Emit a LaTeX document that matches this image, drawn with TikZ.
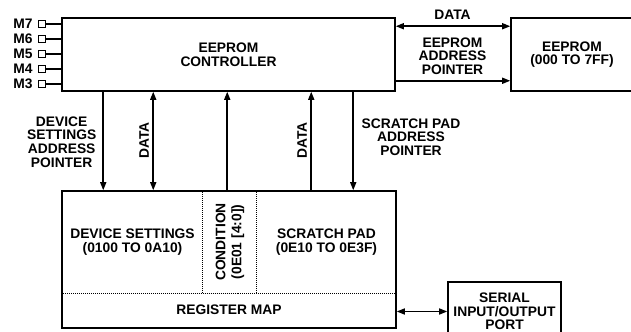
\documentclass[tikz,border=0pt]{standalone}
\usepackage{fontspec}
\setmainfont{Liberation Sans}
\usetikzlibrary{arrows.meta,positioning}

\begin{document}
\begin{tikzpicture}[
  every node/.style={font=\fontsize{11.8}{11.7}\selectfont\bfseries, align=center, inner sep=0pt},
  blk/.style={draw, line width=1.3pt},
  pin/.style={draw, line width=1pt, minimum size=2mm},
  arr/.style={-{Triangle[length=2.4mm,width=1.8mm]}, line width=1.3pt},
  darr/.style={{Triangle[length=2.4mm,width=1.8mm]}-{Triangle[length=2.4mm,width=1.8mm]}, line width=1.3pt},
  sep/.style={densely dotted, line width=0.7pt}
]
  \clip (0,0) rectangle (18.93,9.96);
  \node[blk, minimum width=9.99cm, minimum height=2.19cm] (ctrl) at (6.855,8.325) {EEPROM\\CONTROLLER};
  \node[blk, minimum width=3.66cm, minimum height=2.19cm] (eep) at (17.16,8.325) {EEPROM\\(000 TO 7FF)};
  \node[blk, minimum width=10.02cm, minimum height=4.11cm] (reg) at (6.87,2.175) {};
  \node[blk, minimum width=3.39cm, minimum height=1.77cm] (ser) at (15.135,0.615) {SERIAL\\INPUT/OUTPUT\\PORT};
  % mode pins
  \foreach \m/\y in {7/9.24,6/8.79,5/8.34,4/7.89,3/7.44} {
    \node[pin] (p\m) at (1.26,\y) {};
    \node[left=1.6mm of p\m] (m\m) {M\m};
    \draw[line width=1.1pt] (p\m.east) -- (p\m.east -| ctrl.west);
  }
  % controller <-> eeprom
  \draw[darr] ([yshift=-0.27cm]ctrl.north east) -- ([yshift=-0.27cm]eep.north west);
  \draw[arr] ([yshift=0.33cm]ctrl.south east) -- ([yshift=0.33cm]eep.south west);
  \node (edata) at (13.575,9.51) {DATA};
  \node (eap) at (13.575,8.28) {EEPROM\\ADDRESS\\POINTER};
  % controller <-> register map
  \draw[arr] ([xshift=1.26cm]ctrl.south west) -- ([xshift=1.26cm]reg.north west);
  \draw[darr] ([xshift=2.76cm]ctrl.south west) -- ([xshift=2.76cm]reg.north west);
  \draw[arr] ([xshift=4.98cm]reg.north west) -- ([xshift=4.98cm]ctrl.south west);
  \draw[arr] ([xshift=7.5cm]reg.north west) -- ([xshift=7.5cm]ctrl.south west);
  \draw[arr] ([xshift=8.76cm]ctrl.south west) -- ([xshift=8.76cm]reg.north west);
  \node (dsap) at (1.85,5.7) {DEVICE\\SETTINGS\\ADDRESS\\POINTER};
  \node[rotate=90] (dsdata) at (4.32,5.745) {DATA};
  \node[rotate=90] (spdata) at (9.06,5.745) {DATA};
  \node (spap) at (12.33,5.85) {SCRATCH PAD\\ADDRESS\\POINTER};
  % register map sections
  \draw[sep] ([yshift=1.065cm]reg.south west) -- ([yshift=1.065cm]reg.south east);
  \draw[sep] ([xshift=4.23cm]reg.north west) -- ([xshift=4.23cm,yshift=1.065cm]reg.south west);
  \draw[sep] ([xshift=5.85cm]reg.north west) -- ([xshift=5.85cm,yshift=1.065cm]reg.south west);
  \node (ds) at (3.975,2.7) {DEVICE SETTINGS\\(0100 TO 0A10)};
  \node[rotate=90, font=\fontsize{11.8}{13.5}\selectfont\bfseries] (cond) at (6.9,2.7) {CONDITION\\(0E01 [4:0])};
  \node (sp) at (9.795,2.7) {SCRATCH PAD\\(0E10 TO 0E3F)};
  \node (rmap) at (6.87,0.66) {REGISTER MAP};
  % serial port
  \draw[darr] (reg.east |- ser.west) -- (ser.west);
\end{tikzpicture}
\end{document}
